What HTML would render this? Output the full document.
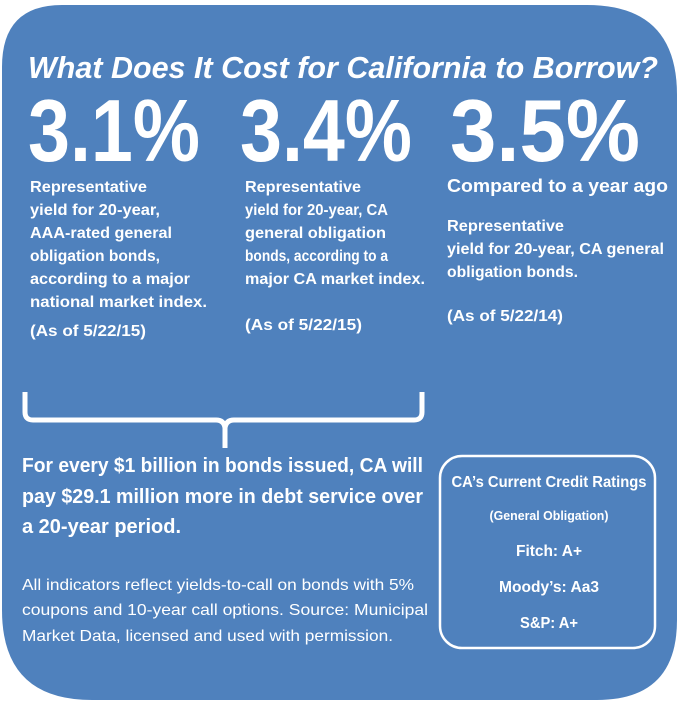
<!DOCTYPE html>
<html><head><meta charset="utf-8"><style>
html,body{margin:0;padding:0;background:#fff;width:680px;height:702px;overflow:hidden}
svg text{font-family:"Liberation Sans",sans-serif;fill:#fff}
</style></head><body>
<svg width="680" height="702" viewBox="0 0 680 702">
<path fill="#4f81bd" d="M62,5 H587 Q677,5 677,95 V620 Q677,700 597,700 H92 Q2,700 2,610 V67 Q2,5 62,5 Z"/>
<text x="28" y="78" font-size="31" font-weight="bold" font-style="italic" textLength="630" lengthAdjust="spacingAndGlyphs">What Does It Cost for California to Borrow?</text>
<g font-weight="bold" font-size="88">
<text x="28" y="161" textLength="172" lengthAdjust="spacingAndGlyphs">3.1%</text>
<text x="240" y="161" textLength="172" lengthAdjust="spacingAndGlyphs">3.4%</text>
<text x="450" y="161" textLength="190" lengthAdjust="spacingAndGlyphs">3.5%</text>
</g>
<g font-weight="bold" font-size="16">
<text x="30" y="192" textLength="117" lengthAdjust="spacingAndGlyphs">Representative</text>
<text x="30" y="215" textLength="130" lengthAdjust="spacingAndGlyphs">yield for 20-year,</text>
<text x="30" y="238" textLength="142" lengthAdjust="spacingAndGlyphs">AAA-rated general</text>
<text x="30" y="261" textLength="130" lengthAdjust="spacingAndGlyphs">obligation bonds,</text>
<text x="30" y="284" textLength="160" lengthAdjust="spacingAndGlyphs">according to a major</text>
<text x="30" y="307" textLength="177" lengthAdjust="spacingAndGlyphs">national market index.</text>
<text x="30" y="336" textLength="116" lengthAdjust="spacingAndGlyphs">(As of 5/22/15)</text>
</g>
<g font-weight="bold" font-size="16">
<text x="245" y="192" textLength="116" lengthAdjust="spacingAndGlyphs">Representative</text>
<text x="245" y="215" textLength="143" lengthAdjust="spacingAndGlyphs">yield for 20-year, CA</text>
<text x="245" y="238" textLength="141" lengthAdjust="spacingAndGlyphs">general obligation</text>
<text x="245" y="261" textLength="143" lengthAdjust="spacingAndGlyphs">bonds, according to a</text>
<text x="245" y="284" textLength="180" lengthAdjust="spacingAndGlyphs">major CA market index.</text>
<text x="245" y="330" textLength="117" lengthAdjust="spacingAndGlyphs">(As of 5/22/15)</text>
</g>
<g font-weight="bold" font-size="16">
<text x="447" y="192" font-size="18" textLength="221" lengthAdjust="spacingAndGlyphs">Compared to a year ago</text>
<text x="447" y="231" textLength="117" lengthAdjust="spacingAndGlyphs">Representative</text>
<text x="447" y="254" textLength="217" lengthAdjust="spacingAndGlyphs">yield for 20-year, CA general</text>
<text x="447" y="277" textLength="131" lengthAdjust="spacingAndGlyphs">obligation bonds.</text>
<text x="447" y="321" textLength="116" lengthAdjust="spacingAndGlyphs">(As of 5/22/14)</text>
</g>
<path fill="none" stroke="#fff" stroke-width="5" stroke-linejoin="round" d="M25,392 V412 Q25,420 33,420 H216 Q224,420 225,428 V448 M225,448 V428 Q226,420 234,420 H414 Q422,420 422,412 V392"/>
<g font-weight="bold" font-size="20">
<text x="22" y="472" textLength="401" lengthAdjust="spacingAndGlyphs">For every $1 billion in bonds issued, CA will</text>
<text x="22" y="503" textLength="401" lengthAdjust="spacingAndGlyphs">pay $29.1 million more in debt service over</text>
<text x="22" y="533" textLength="159" lengthAdjust="spacingAndGlyphs">a 20-year period.</text>
</g>
<g font-size="16">
<text x="22" y="590" textLength="392" lengthAdjust="spacingAndGlyphs">All indicators reflect yields-to-call on bonds with 5%</text>
<text x="22" y="615" textLength="406" lengthAdjust="spacingAndGlyphs">coupons and 10-year call options.  Source:  Municipal</text>
<text x="22" y="641" textLength="371" lengthAdjust="spacingAndGlyphs">Market Data, licensed and used with permission.</text>
</g>
<rect x="440" y="456" width="215" height="192" rx="22" fill="none" stroke="#fff" stroke-width="2.5"/>
<g font-weight="bold" text-anchor="middle">
<text x="549" y="487" font-size="16" textLength="195" lengthAdjust="spacingAndGlyphs">CA’s Current Credit Ratings</text>
<text x="549" y="520" font-size="13" textLength="119" lengthAdjust="spacingAndGlyphs">(General Obligation)</text>
<text x="549" y="556" font-size="16" textLength="66" lengthAdjust="spacingAndGlyphs">Fitch: A+</text>
<text x="549" y="592" font-size="16" textLength="100" lengthAdjust="spacingAndGlyphs">Moody’s: Aa3</text>
<text x="549" y="628" font-size="16" textLength="58" lengthAdjust="spacingAndGlyphs">S&amp;P: A+</text>
</g>
</svg>
</body></html>
